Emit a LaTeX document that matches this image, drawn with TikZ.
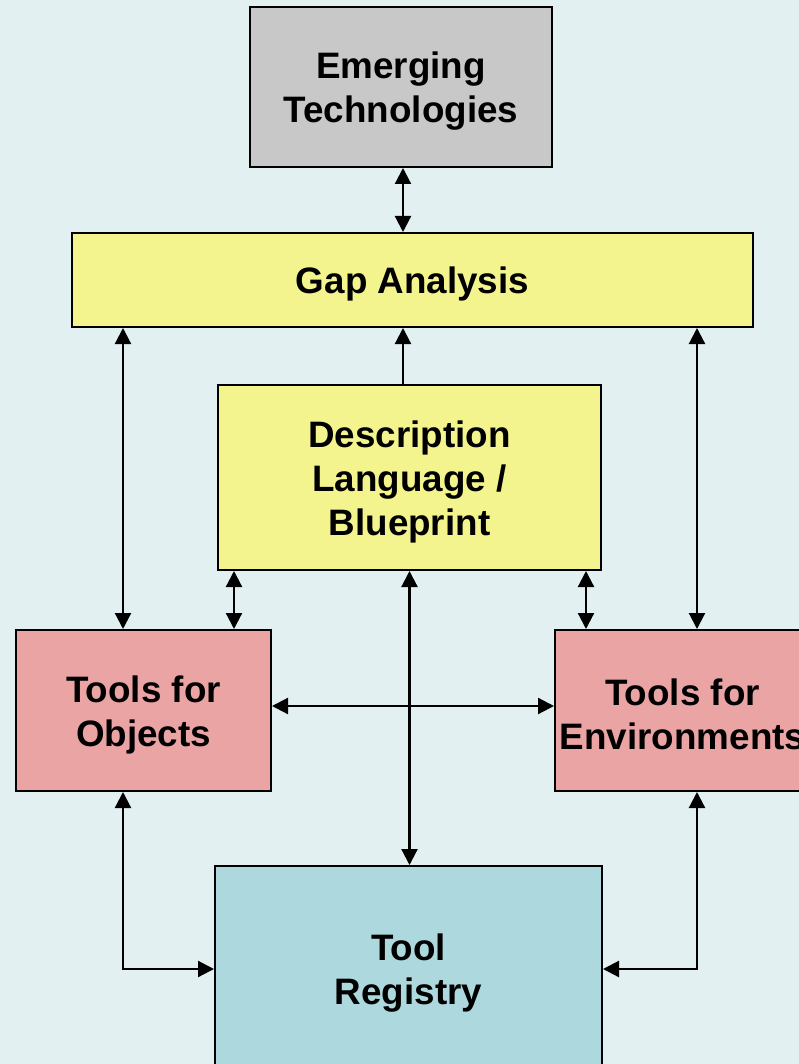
\documentclass[tikz,border=0pt]{standalone}
\usepackage{fontspec}
\setmainfont{Liberation Sans}
\usetikzlibrary{arrows.meta,calc}
\definecolor{bgc}{HTML}{E2F0F1}
\definecolor{grayf}{HTML}{C8C8C8}
\definecolor{yelf}{HTML}{F4F48E}
\definecolor{redf}{HTML}{EAA4A4}
\definecolor{tealf}{HTML}{ADD8DE}
\tikzset{
  boxx/.style={draw=black, line width=2pt, inner sep=0pt},
  txt/.style={label={[font=\fontsize{36.8}{44}\selectfont\bfseries, align=center, yshift=-4pt]center:#1}},
  arr/.style={line width=2.2pt, {Triangle[length=16pt,width=16pt]}-{Triangle[length=16pt,width=16pt]}},
  sarr/.style={line width=2.2pt, -{Triangle[length=16pt,width=16pt]}},
}
\begin{document}
\begin{tikzpicture}[x=1pt,y=-1pt]
\useasboundingbox (0,0) rectangle (799,1064);
\clip (0,0) rectangle (799,1064);
\fill[bgc] (0,0) rectangle (799,1064);
\node[boxx, fill=grayf, minimum width=302pt, minimum height=160pt, txt={Emerging\\Technologies}] (emt) at (401,87) {};
\node[boxx, fill=yelf, minimum width=681pt, minimum height=94pt, txt={Gap Analysis}] (gap) at (412.5,280) {};
\node[boxx, fill=yelf, minimum width=383pt, minimum height=185pt, txt={Description\\Language /\\Blueprint}] (desc) at (409.5,477.5) {};
\node[boxx, fill=redf, minimum width=255pt, minimum height=161pt, txt={Tools for\\Objects}] (tobj) at (143.5,710.5) {};
\node[boxx, fill=redf, minimum width=255pt, minimum height=161pt, txt={Tools for\\Environments}] (tenv) at (682.5,710.5) {};
\node[boxx, fill=tealf, minimum width=387pt, minimum height=206pt, txt={Tool\\Registry}] (treg) at (408.5,969) {};
% connectors
\draw[arr] ([xshift=2pt]emt.south) -- ([xshift=2pt]emt.south |- gap.north);
\draw[sarr] ([xshift=-6.5pt]desc.north) -- ([xshift=-6.5pt]desc.north |- gap.south);
\draw[arr] ([xshift=-20.5pt]gap.south -| tobj.north) -- ([xshift=-20.5pt]tobj.north);
\draw[arr] ([xshift=90.5pt]tobj.north |- desc.south) -- ([xshift=90.5pt]tobj.north);
\draw[arr] ([xshift=-96.5pt]tenv.north |- desc.south) -- ([xshift=-96.5pt]tenv.north);
\draw[arr] ([xshift=14.5pt]tenv.north |- gap.south) -- ([xshift=14.5pt]tenv.north);
\draw[arr] ([yshift=4.5pt]tobj.east) -- ([yshift=4.5pt]tenv.west);
\draw[arr] (desc.south) -- (desc.south |- treg.north);
\draw[arr] ([xshift=-20.5pt]tobj.south) |- (treg.west);
\draw[arr] ([xshift=14.5pt]tenv.south) |- (treg.east);
\end{tikzpicture}
\end{document}
